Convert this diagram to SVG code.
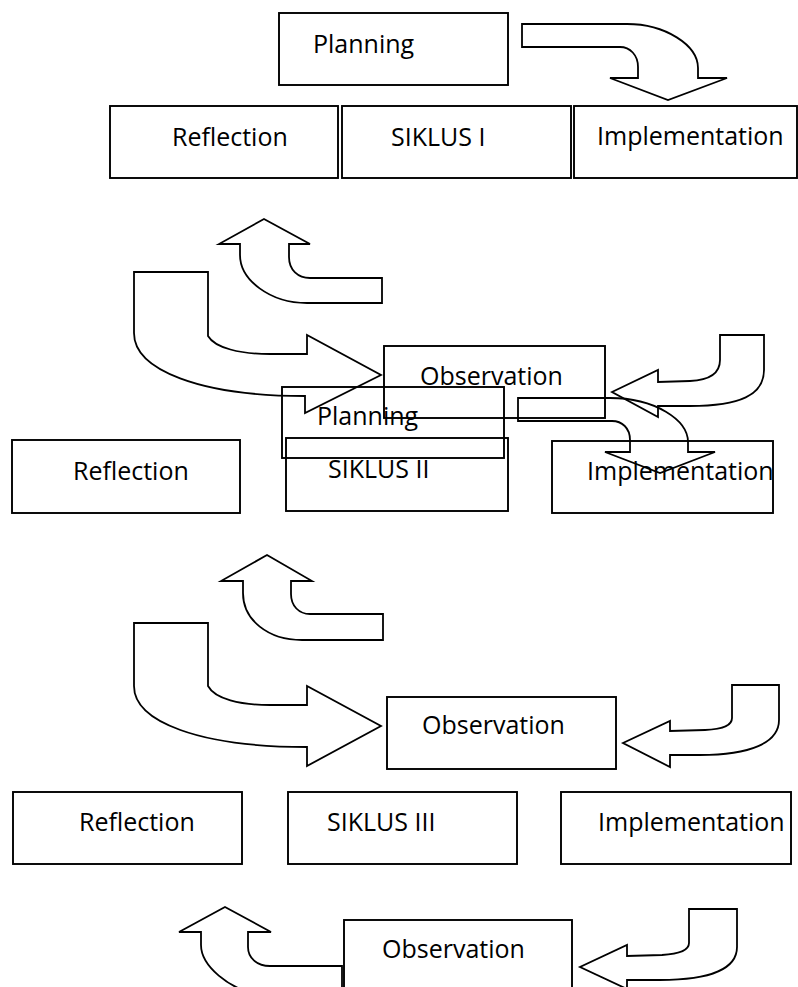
<svg xmlns="http://www.w3.org/2000/svg" width="798" height="987" viewBox="0 0 798 987">
<style>
.box{fill:none;stroke:#000;stroke-width:1.9}
.arr{fill:none;stroke:#000;stroke-width:1.8;stroke-linejoin:miter}
.t{font-family:"Open Sans","Noto Sans","Liberation Sans",sans-serif;font-size:25px;fill:#000}
</style>
<rect width="798" height="987" fill="#fff"/>
<g id="connectors">
<path class="arr" d="M522,24 L627,24 C665,24 698,45 698,68 L698,78 L727,78 L668,100 L610,78 L638,78 L638,67 C638,55 630,47 620,47 L522,47 Z"/>
<path class="arr" d="M264,219 L310,244 L289,244 L289,257 C289,270 298,278 310,278 L382,278 L382,303 L307,303 C270,303 240,280 240,255 L240,244 L219,244 Z"/>
<path class="arr" d="M134,272 L208,272 L208,336 C215,348 240,354 270,354 L307,354 L307,335 L381,375 L305,413 L305,396 C200,396 134,370 134,333 Z"/>
<path class="arr" d="M720,335 L764,335 L764,370 C764,395 740,406 690,406 L658,406 L658,417 L612,392 L658,370 L658,382 L690,381 C712,380 720,372 720,360 Z"/>
<path class="arr" d="M518,398 L610,398 C655,398 688,420 688,442 L688,452 L715,452 L660,473 L605,452 L630,452 L630,440 C630,428 622,421 612,421 L518,421 Z"/>
<path class="arr" d="M267,555 L312,581 L291,581 L291,594 C291,606 299,614 310,614 L383,614 L383,640 L302,640 C268,640 243,620 243,593 L243,581 L221,581 Z"/>
<path class="arr" d="M134,623 L208,623 L208,686 C215,699 240,705 270,705 L307,705 L307,686 L381,726 L307,766 L307,747 C200,747 134,722 134,686 Z"/>
<path class="arr" d="M732,685 L779,685 L779,720 C779,743 750,755 700,755 L670,755 L670,767 L623,743 L670,721 L670,731 L705,730 C725,729 732,725 732,718 Z"/>
<path class="arr" d="M225,907 L271,932 L248,932 L248,947 C248,958 257,966 270,966 L342,966 L342,995 L262,995 C228,990 201,965 201,945 L201,932 L179,932 Z"/>
<path class="arr" d="M689,909 L737,909 L737,947 C737,968 712,980 660,980 L627,980 L627,989 L580,967 L627,945 L627,956 L662,955 C680,954 689,950 689,943 Z"/>
</g>
<g id="planning1"><rect class="box" x="279" y="13" width="229" height="72"/><text class="t" x="313" y="53">Planning</text></g>
<g id="reflection1"><rect class="box" x="110" y="106" width="228" height="72"/><text class="t" x="172" y="146">Reflection</text></g>
<g id="siklus1"><rect class="box" x="342" y="106" width="229" height="72"/><text class="t" x="391" y="146">SIKLUS I</text></g>
<g id="implementation1"><rect class="box" x="574" y="106" width="223" height="72"/><text class="t" x="597" y="145">Implementation</text></g>
<g id="observation1"><rect class="box" x="384" y="346" width="221" height="72"/><text class="t" x="420" y="385">Observation</text></g>
<g id="planning2"><rect class="box" x="282" y="387" width="222" height="71"/><text class="t" x="317" y="425">Planning</text></g>
<g id="reflection2"><rect class="box" x="12" y="440" width="228" height="73"/><text class="t" x="73" y="480">Reflection</text></g>
<g id="siklus2"><rect class="box" x="286" y="438" width="222" height="73"/><text class="t" x="328" y="478">SIKLUS II</text></g>
<g id="implementation2"><rect class="box" x="552" y="441" width="221" height="72"/><text class="t" x="587" y="480">Implementation</text></g>
<g id="observation2"><rect class="box" x="387" y="697" width="229" height="72"/><text class="t" x="422" y="734">Observation</text></g>
<g id="reflection3"><rect class="box" x="13" y="792" width="229" height="72"/><text class="t" x="79" y="831">Reflection</text></g>
<g id="siklus3"><rect class="box" x="288" y="792" width="229" height="72"/><text class="t" x="327" y="831">SIKLUS III</text></g>
<g id="implementation3"><rect class="box" x="561" y="792" width="230" height="72"/><text class="t" x="598" y="831">Implementation</text></g>
<g id="observation3"><rect class="box" x="344" y="920" width="228" height="80"/><text class="t" x="382" y="958">Observation</text></g>
</svg>
